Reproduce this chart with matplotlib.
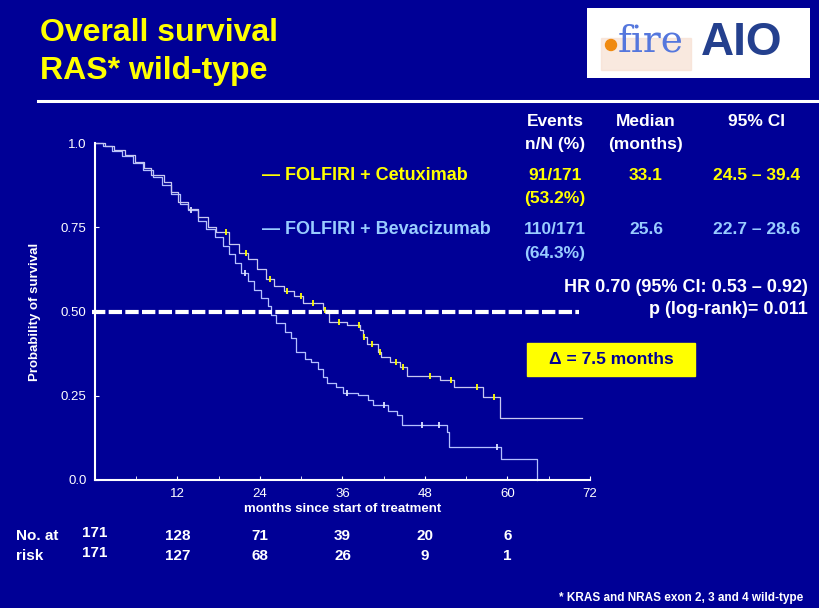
import numpy as np
import matplotlib
matplotlib.use("Agg")
import matplotlib.pyplot as plt
from matplotlib.patches import Rectangle, Circle

plt.rcParams['font.family'] = ['Liberation Sans', 'DejaVu Sans']

# Kaplan-Meier steps (months, survival after the drop)
cet_t = [0, 1.5, 2.7, 4.3, 5.8, 7.2, 8.2, 10.0, 11.1, 12.1, 13.6, 15.0, 16.5, 17.6, 19.5, 21.0,
         22.3, 23.5, 24.9, 26.0, 27.5, 29.0, 30.2, 33.2, 34.0, 36.7, 38.6, 39.0, 39.6, 41.2,
         41.6, 42.9, 44.4, 45.4, 50.2, 52.2, 56.4, 58.9]
cet_s = [1.0, 0.99, 0.98, 0.965, 0.945, 0.925, 0.905, 0.885, 0.855, 0.825, 0.805, 0.78, 0.75,
         0.735, 0.70, 0.675, 0.655, 0.625, 0.595, 0.575, 0.56, 0.545, 0.525, 0.505, 0.47, 0.46,
         0.445, 0.425, 0.405, 0.38, 0.365, 0.35, 0.335, 0.31, 0.297, 0.276, 0.246, 0.184]
cet_end = 70.8
cet_cens = [19.0, 22.0, 25.5, 28.0, 30.0, 31.7, 33.4, 35.5, 38.4, 39.2, 40.3, 41.4, 43.8,
            44.8, 48.8, 51.8, 55.6, 58.0]

bev_t = [0, 1.2, 2.5, 4.0, 5.5, 7.0, 8.5, 9.8, 11.0, 12.3, 13.5, 15.0, 16.2, 17.5, 18.6, 19.5,
         20.4, 21.3, 22.2, 23.2, 24.2, 25.1, 25.6, 26.3, 27.7, 28.5, 29.2, 30.6, 31.4, 32.4,
         33.2, 33.8, 35.0, 36.1, 38.3, 39.7, 40.5, 42.6, 43.9, 44.7, 51.2, 51.5, 59.1, 64.3]
bev_s = [1.0, 0.99, 0.975, 0.96, 0.94, 0.92, 0.9, 0.875, 0.85, 0.82, 0.8, 0.77, 0.745, 0.72,
         0.695, 0.67, 0.645, 0.615, 0.59, 0.565, 0.54, 0.515, 0.49, 0.466, 0.44, 0.42, 0.38,
         0.36, 0.35, 0.33, 0.305, 0.288, 0.276, 0.258, 0.252, 0.237, 0.222, 0.205, 0.193, 0.163,
         0.142, 0.098, 0.062, 0.0]
bev_end = 64.3
bev_cens = [14.0, 21.8, 36.6, 42.0, 47.5, 50.0, 58.5]

risk_months = [0, 12, 24, 36, 48, 60]
risk_cet = [171, 128, 71, 39, 20, 6]
risk_bev = [171, 127, 68, 26, 9, 1]

table_head = ["Events\nn/N (%)", "Median\n(months)", "95% CI"]
row_cet = ["— FOLFIRI + Cetuximab", "91/171\n(53.2%)", "33.1", "24.5 – 39.4"]
row_bev = ["— FOLFIRI + Bevacizumab", "110/171\n(64.3%)", "25.6", "22.7 – 28.6"]

BG = "#000096"
YEL = "#ffff00"
LBLUE = "#99ccff"
W, H = 820, 608

fig = plt.figure(figsize=(8.2, 6.08), dpi=100, facecolor=BG)


def fx(px):
    return px / W


def fy(py):
    return 1 - py / H


def ftext(x, y, s, **kw):
    kw.setdefault("color", "white")
    kw.setdefault("fontweight", "bold")
    kw.setdefault("va", "center")
    fig.text(fx(x), fy(y), s, **kw)


def lines(x, y, s, step=23, **kw):
    # multi-line cell, one text per line
    for k, part in enumerate(s.split("\n")):
        ftext(x, y + k * step, part, **kw)


# title
ftext(40, 33, "Overall survival", color=YEL, fontsize=23)
ftext(40, 71, "RAS* wild-type", color=YEL, fontsize=23)
fig.add_artist(plt.Line2D([fx(38), fx(820)], [fy(101), fy(101)], color="white", lw=2.2))

# logo
logo = fig.add_axes([fx(587), fy(78), fx(810) - fx(587), fy(8) - fy(78)])
logo.set_xlim(0, 223)
logo.set_ylim(0, 70)
logo.axis("off")
logo.add_patch(Rectangle((0, 0), 223, 70, color="white"))
logo.add_patch(Rectangle((14, 8), 90, 32, color="#f7e0d2", alpha=0.7))
logo.add_patch(Circle((24, 33), 5.5, color="#f08a10"))
logo.text(31, 36, "fire", fontsize=27, color="#5577dd", family="DejaVu Serif", va="center")
logo.text(114, 35, "AIO", fontsize=33, color="#24408e", fontweight="heavy", va="center")

# KM plot
ax = fig.add_axes([fx(95), fy(480), fx(590) - fx(95), fy(143) - fy(480)])
ax.set_facecolor(BG)
ax.set_xlim(0, 72)
ax.set_ylim(0, 1.0)

for t, s, end, cens, lc, mc in [(bev_t, bev_s, bev_end, bev_cens, "#b4c0ff", "#dde4ff"),
                               (cet_t, cet_s, cet_end, cet_cens, "#c8c8f0", YEL)]:
    tt = np.append(t, end)
    ss = np.append(s, s[-1])
    ax.step(tt, ss, where="post", color=lc, lw=0.9, clip_on=False)
    idx = np.searchsorted(t, cens, side="right") - 1
    ax.plot(cens, np.array(s)[idx], linestyle="none", marker="|", markersize=5,
            color=mc, mew=1.3, clip_on=False)

ax.plot([-0.4, 70.4], [0.5, 0.5], color="white", lw=3, dashes=(3.2, 0.8), clip_on=False)

for sp in ["top", "right"]:
    ax.spines[sp].set_visible(False)
for sp in ["left", "bottom"]:
    ax.spines[sp].set_color("white")
    ax.spines[sp].set_linewidth(1.5)
ax.set_xticks([12, 24, 36, 48, 60, 72])
ax.set_xticks(np.arange(6, 72, 6), minor=True)
ax.set_yticks([0, 0.25, 0.5, 0.75, 1.0])
ax.set_yticklabels(["0.0", "0.25", "0.50", "0.75", "1.0"])
ax.tick_params(axis="x", direction="in", length=3, color="white", labelcolor="white",
               labelsize=9.5, pad=6, which="both")
ax.tick_params(axis="y", direction="in", length=3, color="white", labelcolor="white",
               labelsize=9.5, pad=6)
ax.set_xlabel("months since start of treatment", color="white", fontsize=9.5,
              fontweight="bold", labelpad=2)
ax.set_ylabel("Probability of survival", color="white", fontsize=9.5, fontweight="bold",
              labelpad=14)

# results table
cols = [555, 646, 757]
for x, h in zip(cols, table_head):
    lines(x, 122, h, ha="center", fontsize=12.5)
for y, row, c in [(176, row_cet, YEL), (230, row_bev, LBLUE)]:
    ftext(262, y, row[0], color=c, fontsize=13)
    lines(cols[0], y, row[1], color=c, fontsize=12.5, ha="center")
    ftext(cols[1], y, row[2], color=c, fontsize=12.5, ha="center")
    ftext(cols[2], y, row[3], color=c, fontsize=12.5, ha="center")
ftext(808, 287, "HR 0.70 (95% CI: 0.53 – 0.92)", ha="right", fontsize=13)
ftext(808, 310, "p (log-rank)= 0.011", ha="right", fontsize=13)

# delta box
fig.add_artist(Rectangle((fx(527), fy(376)), fx(695) - fx(527), fy(343) - fy(376),
                         color=YEL, transform=fig.transFigure))
ftext(611, 359, "Δ = 7.5 months", color=BG, fontsize=12.5, ha="center")

# number at risk
ftext(16, 536, "No. at", fontsize=11)
ftext(16, 556, "risk", fontsize=11)
for i, (m, a, b) in enumerate(zip(risk_months, risk_cet, risk_bev)):
    xp = ax.transData.transform((m, 0))[0] / fig.dpi / 8.2 * W
    dy = -3 if i == 0 else 0
    ftext(xp, 536 + dy, str(a), fontsize=11, ha="center")
    ftext(xp, 556 + dy, str(b), fontsize=11, ha="center")

ftext(803, 598, "* KRAS and NRAS exon 2, 3 and 4 wild-type", ha="right", fontsize=8.5)

fig.savefig("out.png", dpi=100, facecolor=BG)
